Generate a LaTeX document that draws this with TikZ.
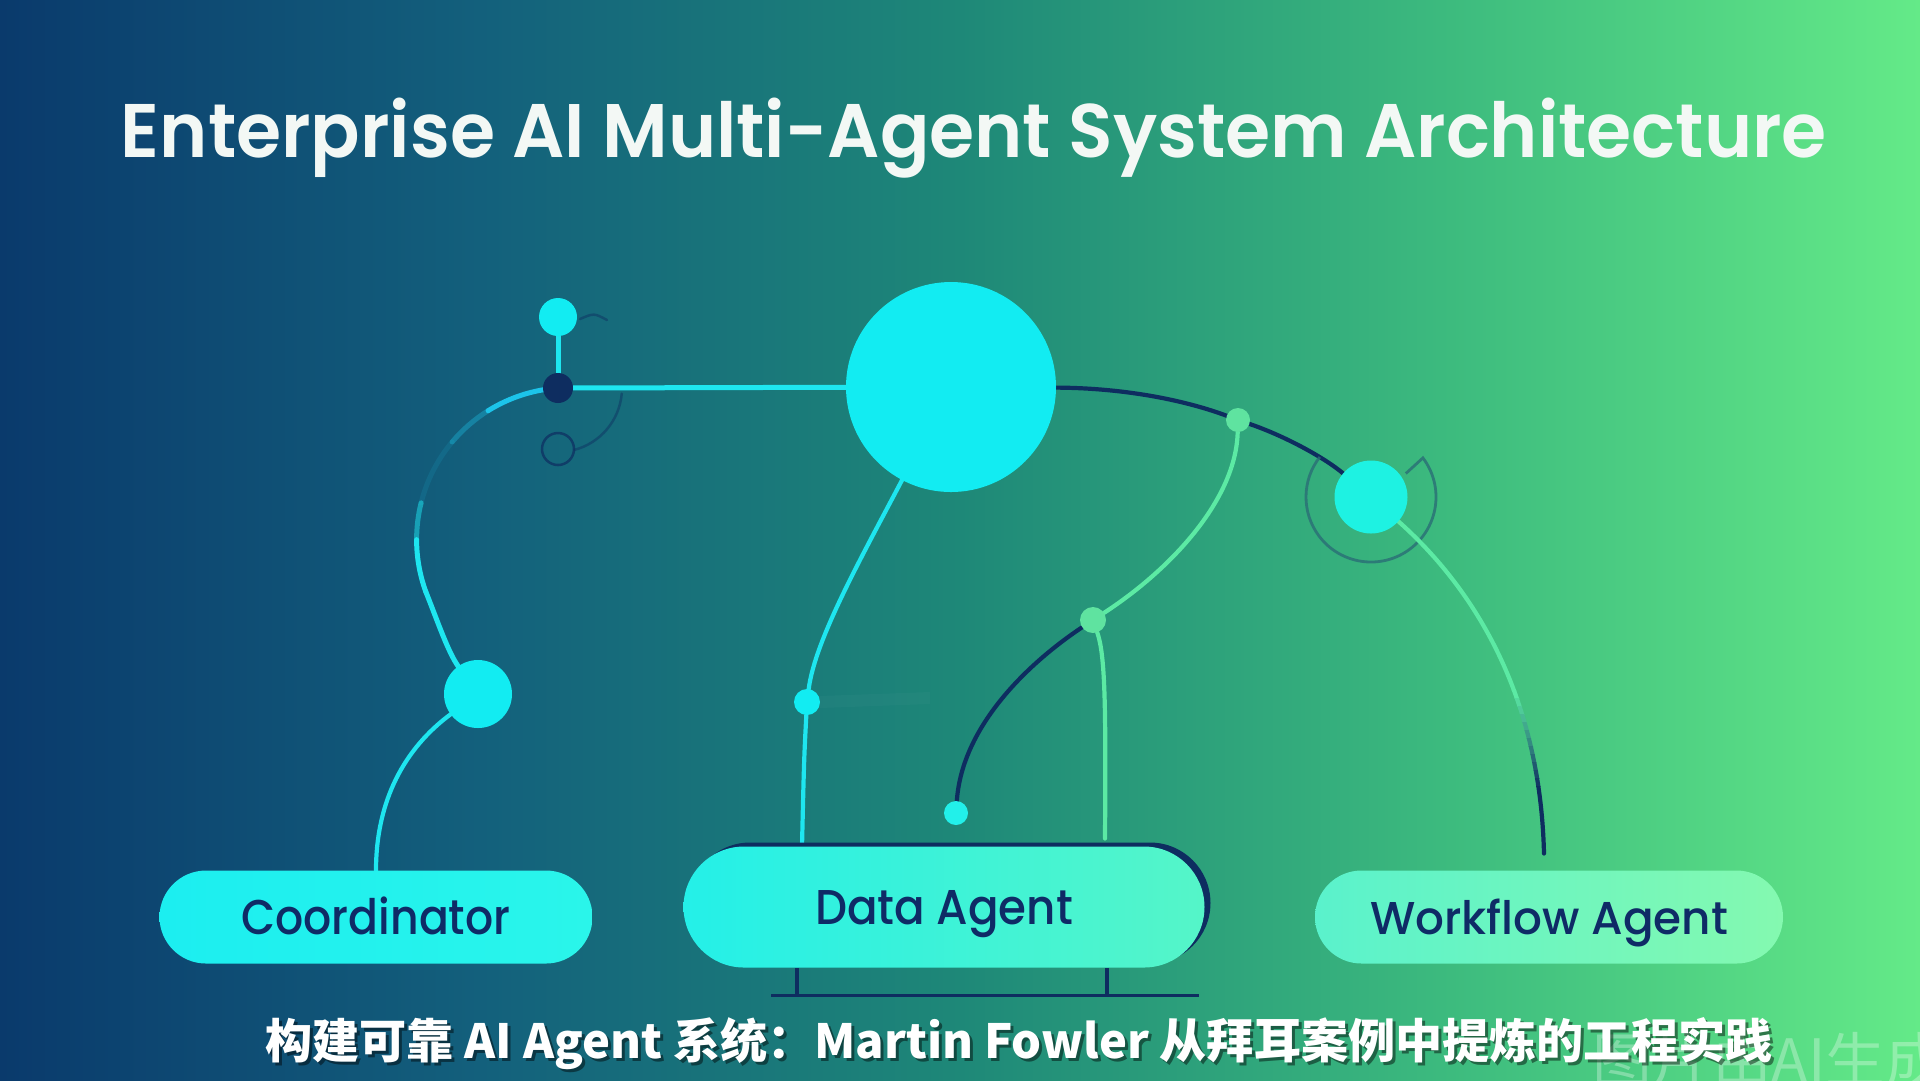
\documentclass[tikz,border=0pt]{standalone}
\usepackage{fontspec}
\usepackage{graphicx}
\newfontfamily\titlefont{Poppins SemiBold}
\newfontfamily\labelfont{Poppins Medium}
\newfontfamily\cjk{Noto Sans CJK SC}
\usetikzlibrary{calc}
\definecolor{bgA}{HTML}{0A3A6C}
\definecolor{bgB}{HTML}{13607C}
\definecolor{bgC}{HTML}{1E8878}
\definecolor{bgD}{HTML}{3CBA7E}
\definecolor{bgE}{HTML}{64EA88}
\definecolor{cHub}{HTML}{12ECF2}
\definecolor{cLine}{HTML}{1EE6F0}
\definecolor{cArc}{HTML}{1CC4EA}
\definecolor{cNavy}{HTML}{0E2D60}
\definecolor{cGreen}{HTML}{5CEAA4}
\definecolor{cGreenDot}{HTML}{5FE3A0}
\definecolor{cDotCy}{HTML}{22F0EA}
\definecolor{cWc}{HTML}{1EF2E2}
\definecolor{cRing}{HTML}{2A6E76}
\definecolor{cText}{HTML}{0F2B66}
\definecolor{cTitle}{HTML}{F3F8F5}
\definecolor{pCoA}{HTML}{1CEEF0}
\definecolor{pCoB}{HTML}{2AF5EA}
\definecolor{pDaA}{HTML}{24F0E8}
\definecolor{pDaB}{HTML}{55F5C8}
\definecolor{pWfA}{HTML}{5AF2CC}
\definecolor{pWfB}{HTML}{84F9B0}
\pgfdeclarehorizontalshading{bgshade}{100bp}{color(0bp)=(bgA); color(25bp)=(bgA); color(37.5bp)=(bgB); color(50bp)=(bgC); color(62.5bp)=(bgD); color(75bp)=(bgE); color(100bp)=(bgE)}
\pgfdeclarelayer{back}
\pgfdeclarelayer{mid}
\pgfsetlayers{back,mid,main}
\tikzset{
  dotc/.style={circle, inner sep=0pt, outer sep=0pt, draw=none},
  pill/.style={rectangle, inner sep=0pt, outer sep=0pt, text=cText, text height=3.4mm, text depth=0pt, align=center},
  cyl/.style={draw=cLine, line width=0.5mm, line cap=round},
  navyl/.style={draw=cNavy, line width=0.42mm, line cap=round},
  greenl/.style={draw=cGreen, line width=0.42mm, line cap=round},
  ringst/.style={draw=cRing, line width=0.28mm, draw opacity=0.8},
  faintn/.style={draw=cNavy, line width=0.25mm, draw opacity=0.45, line cap=round},
  brk/.style={draw=cNavy, line width=0.32mm}
}
\begin{document}
\begin{tikzpicture}[x=0.1mm,y=-0.1mm]
\useasboundingbox (0,0) rectangle (1920,1080);
\begin{pgfonlayer}{back}
\shade[shading=bgshade] (0,0) rectangle (1920,1080);
\end{pgfonlayer}

% title
\node[anchor=base, text=cTitle, inner sep=0pt] (title) at (974,157)
  {\resizebox{170.6mm}{\height}{\titlefont\fontsize{21.6pt}{22pt}\selectfont Enterprise AI Multi-Agent System Architecture}};

% circles
\node[dotc, fill=cHub, minimum size=21mm] (hub) at (951,387) {};
\node[dotc, fill=cHub, minimum size=3.8mm] (tc) at (558,317) {};
\node[dotc, fill=cNavy, minimum size=3.0mm] (dd) at (558,388) {};
\node[dotc, draw=cNavy, draw opacity=0.7, line width=0.25mm, minimum size=3.2mm] (hc) at (558,449) {};
\node[dotc, fill=cHub, minimum size=6.8mm] (cc) at (478,694) {};
\node[dotc, fill=cHub, minimum size=2.6mm] (dd2) at (807,702) {};
\node[dotc, fill=cGreenDot, minimum size=2.4mm] (g1) at (1238,420) {};
\node[dotc, fill=cGreenDot, minimum size=2.6mm] (g2) at (1093,620) {};
\node[dotc, fill=cDotCy, minimum size=2.4mm] (c3) at (956,813) {};
\node[dotc, fill=cWc, minimum size=7.3mm] (wc) at (1371,497) {};

% pills
\node[pill, minimum width=43.3mm, minimum height=9.3mm, rounded corners=4.65mm, left color=pCoA, right color=pCoB] (coord) at (376,917)
  {\resizebox{26.9mm}{\height}{\labelfont\fontsize{13.9pt}{14pt}\selectfont Coordinator}};
\node[pill, fill=cNavy, minimum width=52.1mm, minimum height=12.1mm, rounded corners=6.05mm] (datash) at (950,903) {};
\node[pill, minimum width=52.1mm, minimum height=12.1mm, rounded corners=6.05mm, left color=pDaA, right color=pDaB] (data) at (944,907)
  {\resizebox{25.8mm}{\height}{\labelfont\fontsize{13.9pt}{14pt}\selectfont Data Agent}};
\node[pill, minimum width=46.8mm, minimum height=9.3mm, rounded corners=4.65mm, left color=pWfA, right color=pWfB] (wf) at (1549,917)
  {\resizebox{35.8mm}{\height}{\labelfont\fontsize{13.1pt}{14pt}\selectfont Workflow Agent}};

\coordinate (wfend) at ([xshift=-0.5mm,yshift=1.7mm]wf.north);

% watermark, subtitle
\node[anchor=base west, text=white, opacity=0.3, inner sep=0pt] (wm) at (1592,1082)
  {\cjk\fontsize{17pt}{17pt}\selectfont 图片由AI生成};
\node[anchor=base, text=black, opacity=0.45, inner sep=0pt] (subsh) at (1022,1061)
  {\resizebox{150.7mm}{\height}{\cjk\bfseries\fontsize{13.4pt}{14pt}\selectfont 构建可靠 AI Agent 系统：Martin Fowler 从拜耳案例中提炼的工程实践}};
\node[anchor=base, text=white, inner sep=0pt] (sub) at (1019,1058)
  {\resizebox{150.7mm}{\height}{\cjk\bfseries\fontsize{13.4pt}{14pt}\selectfont 构建可靠 AI Agent 系统：Martin Fowler 从拜耳案例中提炼的工程实践}};

\begin{pgfonlayer}{mid}
% top-left cluster
\draw[cyl] (tc) -- (dd);
\draw[cyl] (dd) -- (hub);
\draw[cyl, draw=cArc] (dd.center) arc[start angle=94, end angle=122, radius=15.2mm] coordinate (a1);
\draw[cyl, draw=cArc, draw opacity=0.35] (a1) arc[start angle=122, end angle=140, radius=15.2mm] coordinate (a2);
\draw[cyl, draw=cArc, draw opacity=0.12] (a2) arc[start angle=140, end angle=166, radius=15.2mm] coordinate (a3);
\draw[cyl, draw opacity=0.5] (a3) arc[start angle=166, end angle=180, radius=15.2mm] coordinate (a4);
\draw[cyl] (a4) arc[start angle=180, end angle=200, radius=15.2mm] coordinate (a5);
\draw[cyl] (a5) .. controls ($(a5)+(12,30)$) and (448,652) .. (cc);
\draw[faintn] ([xshift=0.3mm,yshift=-0.2mm]tc.east) .. controls (594,313) .. (607,320);
\draw[faintn] ($(dd.center)+(-75:6.4mm)$) arc[start angle=-75, end angle=-5, radius=6.4mm];
% coordinator
\draw[cyl, line width=0.42mm] (coord.north) .. controls (376,800) and (405,748) .. (cc);
% data agent branch
\draw[cyl, line width=0.42mm] (hub) .. controls (860,560) and (815,640) .. (dd2);
\draw[cyl, line width=0.42mm] (dd2) .. controls (804,760) .. ([xshift=11.85mm]data.north west);
\draw[white, opacity=0.025, line width=1.2mm] (dd2.east) -- ++(110,-4);
% navy main branch
\draw[navyl] (hub) .. controls (1130,388) and (1190,402) .. (g1) .. controls (1285,436) and (1325,458) .. (wc);
\draw[greenl] (g1) .. controls (1236,500) and (1170,570) .. (g2);
\draw[navyl] (g2) .. controls (1030,662) and (962,725) .. (c3);
\draw[greenl] (g2) .. controls (1105,655) and (1106,700) .. ([xshift=-9.95mm,yshift=0.8mm]data.north east);
% workflow ring and connector (colour banded top to bottom)
\draw[ringst] ($(wc.center)+(34:4.2mm)$) -- ($(wc.center)+(37:6.5mm)$) arc[start angle=37, end angle=-218, radius=6.5mm];
\begin{scope}
  \clip (1300,400) rectangle (1700,690);
  \draw[greenl] (wc) .. controls (1470,585) and (1540,690) .. (wfend);
\end{scope}
\foreach \i in {0,...,11} {
  \pgfmathsetmacro{\pc}{100-\i*8.5}
  \begin{scope}
    \clip (1300,{690+\i*8}) rectangle (1700,{698+\i*8});
    \draw[greenl, draw=cGreen!\pc!cNavy] (wc) .. controls (1470,585) and (1540,690) .. (wfend);
  \end{scope}
}
\begin{scope}
  \clip (1300,786) rectangle (1700,900);
  \draw[navyl] (wc) .. controls (1470,585) and (1540,690) .. (wfend);
\end{scope}
% bracket under data agent
\draw[brk] ([xshift=11.35mm]data.south west) -- ++(0,28);
\draw[brk] ([xshift=-9.75mm]data.south east) -- ++(0,28);
\draw[brk] ([xshift=8.75mm,yshift=-2.8mm]data.south west) -- ([xshift=-0.55mm,yshift=-2.8mm]data.south east);
\end{pgfonlayer}
\end{tikzpicture}
\end{document}
